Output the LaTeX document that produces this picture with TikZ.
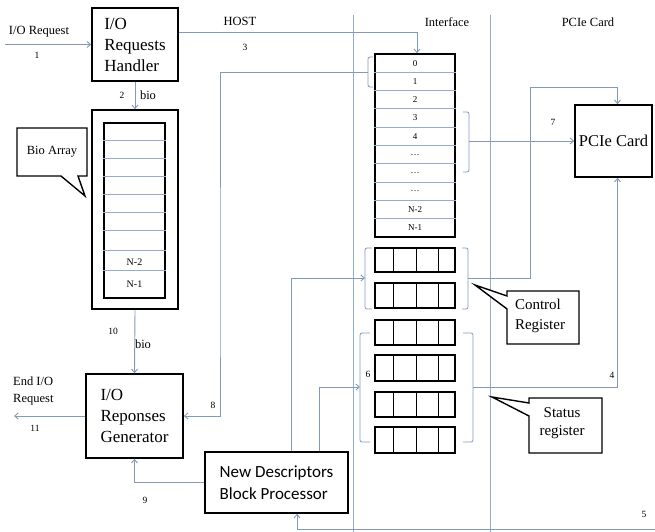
\documentclass[tikz,border=0pt]{standalone}
\usepackage{fontspec}
\setmainfont{Liberation Serif}
\newfontfamily\calfont{Carlito}
\usetikzlibrary{arrows.meta}

\definecolor{wire}{RGB}{128,154,186}
\definecolor{lane}{RGB}{150,172,200}
\definecolor{rowline}{RGB}{150,172,200}

\tikzset{
  blk/.style={draw=black, line width=1.6pt, fill=white, inner sep=0pt},
  procbox/.style={blk, align=left, font=\fontsize{17}{21}\selectfont},
  flow/.style={draw=wire, line width=0.9pt, -{Straight Barb[length=3.5pt,width=6pt]}},
  lbl/.style={font=\fontsize{12.5}{14}\selectfont, inner sep=0pt},
  num/.style={font=\fontsize{9.5}{11}\selectfont, inner sep=0pt},
  slot/.style={font=\fontsize{9}{11}\selectfont, inner sep=0pt},
  brk/.style={draw=wire, line width=0.8pt, rounded corners=2pt},
  cellrow/.style={blk, minimum width=80pt, minimum height=24pt},
  callout/.style={draw=black, line width=1.4pt, fill=white, line join=miter},
}

\begin{document}
\begin{tikzpicture}[x=1pt, y=-1pt]
\useasboundingbox (0,0) rectangle (655,532);

% lane separators
\draw[lane, line width=0.9pt] (353,15) -- (353,532);
\draw[lane, line width=0.9pt] (490,15) -- (490,532);

% lane headings
\node[lbl] (hostlbl) at (240,21) {HOST};
\node[lbl] (ifacelbl) at (447,22) {Interface};
\node[lbl] (pcielbl) at (588,22) {PCIe Card};

% host side blocks
\node[procbox, minimum width=86pt, minimum height=73pt] (handler) at (135,44.5) {I/O\\Requests\\Handler};
\node[blk, minimum width=86pt, minimum height=199pt] (bioarr) at (135,209.5) {};
\node[blk, line width=1.4pt, minimum width=61pt, minimum height=175pt] (bioslots) at (134.5,210.5) {};
\foreach \yy in {140,158,176,194,212,230,250,270}
  \draw[rowline, line width=0.8pt] (bioslots.west |- 0,\yy) -- (bioslots.east |- 0,\yy);
\node[slot, font=\fontsize{10}{12}\selectfont] (bion2) at (134.5,262) {N-2};
\node[slot, font=\fontsize{10}{12}\selectfont] (bion1) at (134.5,284) {N-1};

\node[procbox, minimum width=97pt, minimum height=84pt] (gen) at (134.5,416) {I/O\\Reponses\\Generator};
\node[procbox, font=\calfont\fontsize{17}{22}\selectfont, minimum width=143pt, minimum height=61pt] (ndbp) at (276.5,482.5) {New Descriptors\\Block Processor};

% Bio Array callout
\draw[callout] (17,128) -- (87,128) -- (87,176) -- (78,176) -- (85,196) -- (61,176) -- (17,176) -- cycle;
\node[font=\fontsize{12.5}{14}\selectfont] (biocap) at (52,152) {Bio Array};

% descriptor table
\node[blk, minimum width=80pt, minimum height=183pt] (desc) at (415,145.5) {};
\foreach \k in {1,...,9}
  \draw[rowline, line width=0.8pt] (desc.west |- 0,{54+18.3*\k}) -- (desc.east |- 0,{54+18.3*\k});
\foreach \k/\t in {0/0,1/1,2/2,3/3,4/4,5/\ldots,6/\ldots,7/\ldots,8/N-2,9/N-1}
  \node[slot] (slot\k) at (415,{63.15+18.3*\k}) {\t};

% control and status registers
\node[cellrow] (cr1) at (415,260) {};
\node[cellrow, minimum height=25pt] (cr2) at (415,295.5) {};
\node[cellrow, minimum height=25pt] (sr1) at (415,332.5) {};
\node[cellrow, minimum height=26pt] (sr2) at (415,368) {};
\node[cellrow, minimum height=25pt] (sr3) at (415,404.5) {};
\node[cellrow, minimum height=26pt] (sr4) at (415,440) {};
\foreach \t/\b in {248/272,283/308,320/345,355/381,392/417,427/453}
  \foreach \xx in {393,416,438}
    \draw[line width=0.9pt] (\xx,\t) -- (\xx,\b);

% brackets grouping the slots and registers
\draw[brk] (373,57) -- (368,57) -- (368,87) -- (373,87);
\coordinate (qtop) at (368,72);
\draw[brk] (463,112) -- (469,112) -- (469,172) -- (463,172);
\coordinate (tick7) at (469,141);
\draw[brk] (372,248) -- (365,248) -- (365,309) -- (372,309);
\coordinate (ctrlL) at (365,278);
\draw[brk] (462,248) -- (468,248) -- (468,309) -- (462,309);
\coordinate (ctrlR) at (468,278);
\draw[brk] (370,333) -- (360,333) -- (360,442) -- (370,442);
\coordinate (statL) at (360,387);
\draw[brk] (463,333) -- (473,333) -- (473,442) -- (463,442);
\coordinate (statR) at (473,387);

% card
\node[procbox, font=\fontsize{16.5}{19}\selectfont, minimum width=77pt, minimum height=72pt] (pcie) at (613.5,141) {PCIe Card};

% register callouts
\draw[callout] (507,291) -- (579,291) -- (579,344) -- (507,344) -- (507,309) -- (475,285) -- (507,296) -- cycle;
\node[font=\fontsize{15}{20}\selectfont, align=left] (ctrlcap) at (540,316) {Control\\Register};
\draw[callout] (529,398) -- (602,398) -- (602,453) -- (529,453) -- (529,416) -- (492,397) -- (529,403) -- cycle;
\node[font=\fontsize{15}{18}\selectfont, align=center] (statcap) at (562,423) {Status\\register};

% free ends and bends
\coordinate (reqin) at (5,44.5);
\coordinate (reqout) at (14,416);
\coordinate (ret8) at (220,300);
\coordinate (up7) at (530,87);
\coordinate (feed5) at (655,529);

% connectors
\draw[flow] (reqin) -- (handler.west);
\draw[flow] ([yshift=12.5pt]handler.east) -| ([xshift=2pt]desc.north);
\draw[flow] (handler.south) -- (bioarr.north);
\draw[flow] (bioarr.south) -- (gen.north);
\draw[flow] (gen.west) -- (reqout);
\draw[flow] (qtop) -| (ret8) |- (gen.east);
\draw[flow] (ndbp.west) -| (gen.south);
\draw[flow] ([xshift=14.5pt]ndbp.north) |- (ctrlL);
\draw[flow] ([xshift=42.5pt]ndbp.north) |- (statL);
\draw[flow] (tick7) -- (pcie.west);
\draw[flow] (ctrlR) -| (up7) -| ([xshift=4pt]pcie.north);
\draw[flow] (statR) -| ([xshift=4pt]pcie.south);
\draw[flow] (feed5) -| ([xshift=20.5pt]ndbp.south);

% connector labels
\node[lbl] (reqlbl) at (39,32) {I/O Request};
\node[num] (n1) at (37,55) {1};
\node[num] (n2) at (122,95) {2};
\node[lbl] (bio1) at (148,95) {bio};
\node[num] (n3) at (245,47) {3};
\node[num] (n10) at (113,331) {10};
\node[lbl] (bio2) at (143,344) {bio};
\node[lbl, align=left, anchor=west, font=\fontsize{12.5}{17}\selectfont] (endlbl) at (13,391) {End I/O\\Request};
\node[num] (n11) at (35,428) {11};
\node[num] (n8) at (213,405) {8};
\node[num] (n9) at (145,500) {9};
\node[num] (n6) at (368,374) {6};
\node[num] (n4) at (612,375) {4};
\node[num] (n7) at (553,122) {7};
\node[num] (n5) at (644,514) {5};
\end{tikzpicture}
\end{document}
